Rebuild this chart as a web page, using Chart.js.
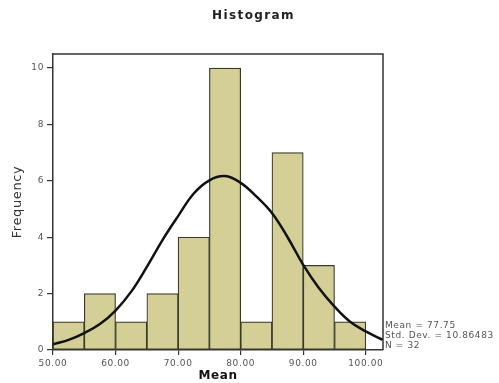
<!DOCTYPE html>
<html>
<head>
<meta charset="utf-8">
<script src="https://cdn.jsdelivr.net/npm/chart.js@4"></script>
<style>
  html, body { margin: 0; padding: 0; background: #fff; }
  #wrap { width: 499px; height: 383px; }
</style>
</head>
<body>
<div id="wrap"><canvas id="histChart" width="499" height="383"></canvas></div>
<script>
// Histogram of Mean, bins of width 5
const binMids = [52.5, 57.5, 62.5, 67.5, 72.5, 77.5, 82.5, 87.5, 92.5, 97.5];
const frequencies = [1, 2, 1, 2, 4, 10, 1, 7, 3, 1];

// Normal curve
const curveX = [50, 52.5, 55, 57.5, 60, 62.5, 65, 67.5, 70, 72.5, 75, 77.5, 80, 82.5, 85, 87.5, 90, 92.5, 95, 97.5, 100, 102.7];
const curveY = [0.2, 0.36, 0.6, 0.92, 1.4, 2.07, 2.95, 3.9, 4.75, 5.55, 6.02, 6.17, 5.93, 5.45, 4.86, 4.0, 3.02, 2.2, 1.54, 1.0, 0.66, 0.36];

const chartTitle = 'Histogram';
const statLines = ['Mean = 77.75', 'Std. Dev. = 10.86483', 'N = 32'];

const axisColor = '#333';
const textGray = '#555';

// letter spacing for the wide bitmap-like look
const spacing = {
    id: 'spacing',
    beforeDraw(chart) { chart.ctx.letterSpacing = '0.6px'; }
};

// frame round the plot, title, and the stats text on the right
const frame = {
    id: 'frame',
    afterDraw(chart) {
        const { ctx, chartArea: a } = chart;
        ctx.save();
        ctx.strokeStyle = axisColor;
        ctx.lineWidth = 1.5;
        ctx.beginPath();
        ctx.moveTo(a.left, a.top);
        ctx.lineTo(a.right, a.top);
        ctx.lineTo(a.right, a.bottom);
        ctx.stroke();

        ctx.fillStyle = '#222';
        ctx.letterSpacing = '1.4px';
        ctx.font = 'bold 12px "DejaVu Sans"';
        ctx.textAlign = 'center';
        ctx.textBaseline = 'middle';
        ctx.fillText(chartTitle, chart.width / 2 + 4, 16);

        ctx.fillStyle = textGray;
        ctx.letterSpacing = '0.6px';
        ctx.font = '9px "DejaVu Sans"';
        ctx.textAlign = 'left';
        statLines.forEach((t, i) => {
            ctx.fillText(t, a.right + 2, a.bottom - 24 + i * 10);
        });
        ctx.restore();
    }
};

new Chart(document.getElementById('histChart'), {
    type: 'bar',
    data: {
        datasets: [{
            type: 'line',
            data: curveX.map((x, i) => ({ x: x, y: curveY[i] })),
            borderColor: '#111',
            borderWidth: 2.5,
            pointRadius: 0,
            tension: 0.4,
            fill: false,
            order: 0
        }, {
            data: binMids.map((x, i) => ({ x: x, y: frequencies[i] })),
            backgroundColor: '#d3cf96',
            borderColor: '#3a3a2a',
            borderWidth: 1.2,
            borderSkipped: false,
            barPercentage: 1,
            categoryPercentage: 1,
            order: 1
        }]
    },
    options: {
        responsive: false,
        animation: false,
        layout: { padding: { left: 0, right: 116, top: 54, bottom: 0 } },
        plugins: {
            legend: { display: false },
            tooltip: { enabled: false }
        },
        scales: {
            x: {
                type: 'linear',
                min: 50,
                max: 102.75,
                offset: false,
                afterFit: s => { s.height = 33; },
                grid: { display: true, drawOnChartArea: false, offset: false, tickLength: 5, color: axisColor, lineWidth: 1.2 },
                border: { display: true, color: axisColor, width: 1.5 },
                ticks: {
                    stepSize: 10,
                    includeBounds: false,
                    maxRotation: 0,
                    padding: 3,
                    color: textGray,
                    font: { family: 'DejaVu Sans', size: 9 },
                    callback: v => v.toFixed(2)
                },
                title: {
                    display: true,
                    text: 'Mean',
                    color: '#111',
                    font: { family: 'DejaVu Sans', size: 12, weight: 'bold', lineHeight: 1.2 },
                    padding: { top: 0, bottom: 0 }
                }
            },
            y: {
                min: 0,
                max: 10.5,
                afterFit: s => { s.width = 53; },
                grid: { display: true, drawOnChartArea: false, tickLength: 6, color: axisColor, lineWidth: 1.2 },
                border: { display: true, color: axisColor, width: 1.5 },
                ticks: {
                    stepSize: 2,
                    includeBounds: false,
                    padding: 3,
                    color: textGray,
                    font: { family: 'DejaVu Sans', size: 9 }
                },
                title: {
                    display: true,
                    text: 'Frequency',
                    color: '#333',
                    font: { family: 'DejaVu Sans', size: 13, lineHeight: 1.2 },
                    padding: { top: 10, bottom: 0 }
                }
            }
        }
    },
    plugins: [spacing, frame]
});
</script>
</body>
</html>
